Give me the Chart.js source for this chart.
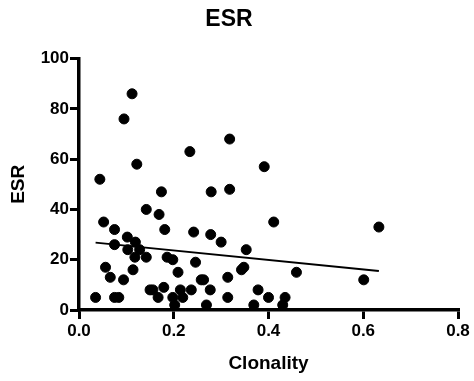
<!DOCTYPE html>
<html>
<head>
<meta charset="utf-8">
<script src="https://cdn.jsdelivr.net/npm/chart.js@4.4.1/dist/chart.umd.min.js"></script>
<style>
  body { margin: 0; background: #fff; }
  #esrChart { display: block; }
</style>
</head>
<body>
<canvas id="esrChart" width="474" height="381"></canvas>
<script>
// data
const clonality = [0.112, 0.095, 0.318, 0.234, 0.122, 0.391, 0.044, 0.174, 0.279, 0.318,
    0.142, 0.169, 0.052, 0.411, 0.633, 0.075, 0.181, 0.242, 0.278, 0.102,
    0.119, 0.300, 0.075, 0.103, 0.128, 0.353, 0.118, 0.142, 0.186, 0.198,
    0.246, 0.056, 0.114, 0.209, 0.343, 0.348, 0.459, 0.066, 0.094, 0.258,
    0.263, 0.314, 0.601, 0.179, 0.150, 0.156, 0.214, 0.237, 0.277, 0.378,
    0.035, 0.075, 0.084, 0.167, 0.198, 0.219, 0.314, 0.400, 0.435, 0.202,
    0.269, 0.369, 0.430];
const esr = [86, 76, 68, 63, 58, 57, 52, 47, 47, 48,
    40, 38, 35, 35, 33, 32, 32, 31, 30, 29,
    27, 27, 26, 24, 24, 24, 21, 21, 21, 20,
    19, 17, 16, 15, 16, 17, 15, 13, 12, 12,
    12, 13, 12, 9, 8, 8, 8, 8, 8, 8,
    5, 5, 5, 5, 5, 5, 5, 5, 5, 2,
    2, 2, 2];

// regression line end points
const fitX = [0.035, 0.633];
const fitY = [26.8, 15.5];

const xTickValues = [0, 0.2, 0.4, 0.6, 0.8];
const yTickValues = [0, 20, 40, 60, 80, 100];

const points = clonality.map((c, i) => ({ x: c, y: esr[i] }));
const fitLine = fitX.map((c, i) => ({ x: c, y: fitY[i] }));

const fontFamily = 'Liberation Sans, Arial, Helvetica, sans-serif';

const axisGrid = {
    drawOnChartArea: false,
    color: '#000',
    lineWidth: 3,
    tickColor: '#000',
    tickWidth: 3,
    tickLength: 9,
    borderColor: '#000',
    borderWidth: 3.5
};
const axisBorder = { display: true, color: '#000', width: 3.5 };

new Chart(document.getElementById('esrChart'), {
    type: 'scatter',
    data: {
        datasets: [{
            data: points,
            backgroundColor: '#000',
            borderColor: '#000',
            pointRadius: 5,
            pointHoverRadius: 5,
            clip: false
        }, {
            data: fitLine,
            showLine: true,
            borderColor: '#000',
            borderWidth: 2,
            pointRadius: 0,
            clip: false
        }]
    },
    options: {
        responsive: false,
        animation: false,
        layout: {
            padding: { left: 0, right: 16, top: 0, bottom: 0 }
        },
        plugins: {
            legend: { display: false },
            tooltip: { enabled: false },
            title: {
                display: true,
                text: 'ESR',
                color: '#000',
                font: { family: fontFamily, size: 23, weight: 'bold' },
                padding: { top: 6, bottom: 25 }
            }
        },
        scales: {
            x: {
                type: 'linear',
                min: 0,
                max: 0.8,
                afterFit: (scale) => { scale.height = 71; },
                afterBuildTicks: (scale) => { scale.ticks = xTickValues.map(v => ({ value: v })); },
                border: axisBorder,
                grid: axisGrid,
                ticks: {
                    color: '#000',
                    padding: 2,
                    font: { family: fontFamily, size: 17, weight: 'bold' },
                    callback: (v) => Number(v).toFixed(1)
                },
                title: {
                    display: true,
                    text: 'Clonality',
                    color: '#000',
                    font: { family: fontFamily, size: 19, weight: 'bold' },
                    padding: { top: 4, bottom: 6 }
                }
            },
            y: {
                type: 'linear',
                min: 0,
                max: 100,
                afterFit: (scale) => { scale.width = 79; },
                afterBuildTicks: (scale) => { scale.ticks = yTickValues.map(v => ({ value: v })); },
                border: axisBorder,
                grid: axisGrid,
                ticks: {
                    color: '#000',
                    padding: 1,
                    font: { family: fontFamily, size: 17, weight: 'bold' }
                },
                title: {
                    display: true,
                    text: 'ESR',
                    color: '#000',
                    font: { family: fontFamily, size: 19, weight: 'bold' },
                    padding: { top: 7, bottom: 4 }
                }
            }
        }
    }
});
</script>
</body>
</html>
